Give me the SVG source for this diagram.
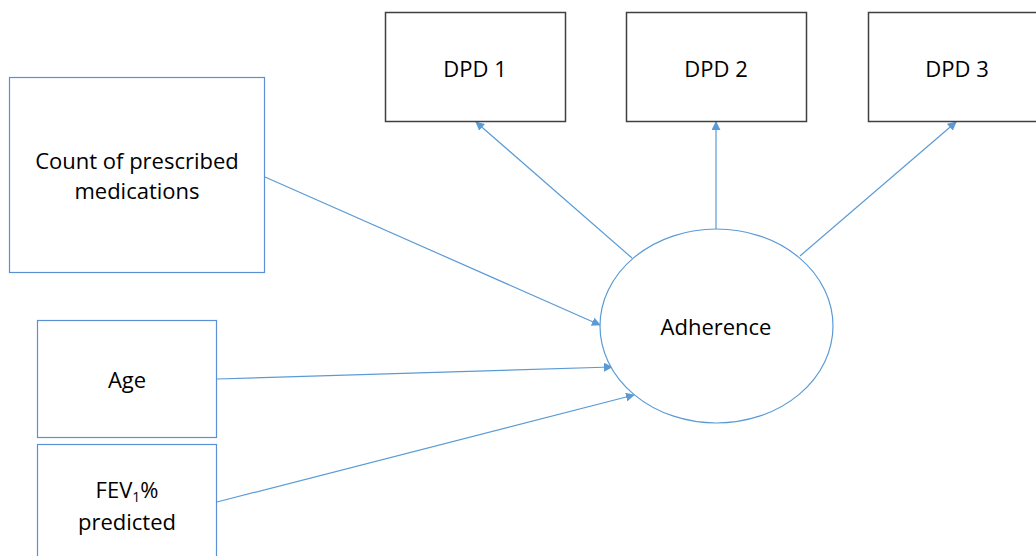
<svg xmlns="http://www.w3.org/2000/svg" width="1036" height="556" viewBox="0 0 1036 556">
  <style>
    .dpd { fill: #ffffff; stroke: #404040; stroke-width: 1.5; }
    .var { fill: #ffffff; stroke: #5b8fd6; stroke-width: 1.2; }
    .lbl { font-family: "Open Sans", "Liberation Sans", sans-serif; font-size: 22px; fill: #000000; text-anchor: middle; }
    .edge { stroke: #5b9bd5; stroke-width: 1.2; fill: none; marker-end: url(#arrow); }
  </style>
  <defs>
    <marker id="arrow" viewBox="0 0 10 10" refX="9" refY="5" markerWidth="9" markerHeight="9" markerUnits="userSpaceOnUse" orient="auto">
      <path d="M0,0 L10,5 L0,10 z" fill="#5b9bd5"/>
    </marker>
  </defs>
  <rect width="1036" height="556" fill="#ffffff"/>

  <g id="connectors">
    <line class="edge" x1="265" y1="177" x2="600" y2="325"/>
    <line class="edge" x1="217" y1="379" x2="612" y2="367"/>
    <line class="edge" x1="217" y1="502" x2="634" y2="395"/>
    <line class="edge" x1="632" y1="258" x2="476" y2="122"/>
    <line class="edge" x1="716" y1="229" x2="716" y2="122"/>
    <line class="edge" x1="800" y1="256" x2="956" y2="122"/>
  </g>

  <g id="dpd1">
    <rect class="dpd" x="385.5" y="12.5" width="180" height="109"/>
    <text class="lbl" x="475" y="77">DPD 1</text>
  </g>
  <g id="dpd2">
    <rect class="dpd" x="626.5" y="12.5" width="180" height="109"/>
    <text class="lbl" x="716" y="77">DPD 2</text>
  </g>
  <g id="dpd3">
    <rect class="dpd" x="868.5" y="12.5" width="180" height="109"/>
    <text class="lbl" x="957" y="77">DPD 3</text>
  </g>

  <g id="count">
    <rect class="var" x="9.5" y="77.5" width="255" height="195"/>
    <text class="lbl" x="137" y="169">Count of prescribed</text>
    <text class="lbl" x="137" y="199">medications</text>
  </g>

  <g id="age">
    <rect class="var" x="37.5" y="320.5" width="179" height="117"/>
    <text class="lbl" x="127" y="388">Age</text>
  </g>

  <g id="fev">
    <rect class="var" x="37.5" y="444.5" width="179" height="120"/>
    <text class="lbl" x="127" y="498">FEV<tspan font-size="14px" dy="4">1</tspan><tspan dy="-4">%</tspan></text>
    <text class="lbl" x="127" y="530">predicted</text>
  </g>

  <g id="adherence">
    <ellipse cx="716.5" cy="326" rx="116.5" ry="97" fill="#ffffff" stroke="#5b9bd5" stroke-width="1.2"/>
    <text class="lbl" x="716" y="335">Adherence</text>
  </g>
</svg>
